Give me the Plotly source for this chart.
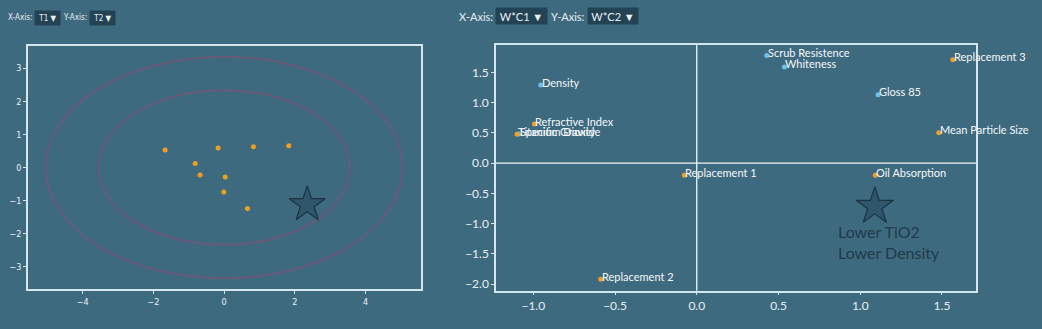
import plotly.graph_objects as go

W, H = 1042, 329

# ---- left plot data (scores T1/T2) ----
t1 = [-1.67, -0.17, 0.83, 1.83, -0.82, -0.68, 0.03, -0.01, 0.66]
t2 = [0.53, 0.59, 0.63, 0.66, 0.12, -0.23, -0.29, -0.74, -1.24]
ellipse_rx = [5.05, 3.55]
ellipse_ry = [3.35, 2.34]
star_left = ([2.35], [-1.12])

# ---- right plot data (loadings W*C1/W*C2) ----
var_names = ["Density", "Specific Gravity", "Scrub Resistence", "Whiteness", "Gloss 85"]
var_x = [-0.954, -1.09, 0.428, 0.536, 1.109]
var_y = [1.29, 0.48, 1.78, 1.59, 1.13]

obs_names = ["Refractive Index", "Titanium Dioxide", "Replacement 1", "Replacement 2",
             "Replacement 3", "Mean Particle Size", "Oil Absorption"]
obs_x = [-0.993, -1.099, -0.076, -0.587, 1.566, 1.48, 1.092]
obs_y = [0.645, 0.475, -0.20, -1.92, 1.71, 0.50, -0.20]

star_right = ([1.089], [-0.716])
star_label = "Lower TiO2<br>Lower Density"

BG = "#3e6a80"
FRAME = "#d4e6f0"
ORANGE = "#f0a020"
BLUE = "#6cc0ec"
STAR_FILL = "#2f566b"
STAR_LINE = "#1b3343"
ELL = "#685a7a"

fig = go.Figure()

# left
for rx, ry in zip(ellipse_rx, ellipse_ry):
    fig.add_shape(type="circle", xref="x", yref="y", x0=-rx, x1=rx, y0=-ry, y1=ry,
                  line=dict(color=ELL, width=2), layer="below")
fig.add_trace(go.Scatter(x=t1, y=t2, mode="markers", xaxis="x", yaxis="y",
                         marker=dict(color=ORANGE, size=5, line=dict(width=0)), showlegend=False))
fig.add_trace(go.Scatter(x=star_left[0], y=star_left[1], mode="markers", xaxis="x", yaxis="y",
                         marker=dict(symbol="star", size=27, color=STAR_FILL,
                                     line=dict(color=STAR_LINE, width=1.2)), showlegend=False))

# right
lab_font = dict(family="Lato", size=11, color="#f4f8fa")
fig.add_trace(go.Scatter(x=var_x, y=var_y, mode="markers", xaxis="x2", yaxis="y2",
                         marker=dict(color=BLUE, size=5), showlegend=False))
fig.add_trace(go.Scatter(x=obs_x, y=obs_y, mode="markers", xaxis="x2", yaxis="y2",
                         marker=dict(color=ORANGE, size=5), showlegend=False))
for names, xs, ys in ((var_names, var_x, var_y), (obs_names, obs_x, obs_y)):
    for n, xv, yv in zip(names, xs, ys):
        fig.add_annotation(x=xv, y=yv, xref="x2", yref="y2", text=n, showarrow=False,
                           xanchor="left", yanchor="middle", xshift=-1, yshift=3, font=lab_font)
fig.add_trace(go.Scatter(x=star_right[0], y=star_right[1], mode="markers", xaxis="x2", yaxis="y2",
                         marker=dict(symbol="star", size=28, color=STAR_FILL,
                                     line=dict(color=STAR_LINE, width=1.2)), showlegend=False))
fig.add_annotation(x=0.851, y=-1.31, xref="x2", yref="y2", text=star_label, showarrow=False,
                   xanchor="left", yanchor="middle", align="left",
                   font=dict(family="Lato", size=16, color="#1f3a4b"))

# zero lines on right
fig.add_shape(type="line", xref="x2", yref="paper", x0=0, x1=0, y0=1 - 290.7 / H, y1=1 - 44.7 / H,
              line=dict(color="#f0f6fa", width=1.3))
fig.add_shape(type="line", xref="paper", yref="y2", x0=496 / W, x1=976 / W, y0=0, y1=0,
              line=dict(color="#f0f6fa", width=1.3))

left_tick = dict(family="DejaVu Sans Condensed", size=9, color="#e8f0f4")
right_tick = dict(family="Lato", size=12, color="#e8f0f4")
ax_common = dict(showgrid=False, zeroline=False, showline=True, mirror=True, linecolor=FRAME,
                 linewidth=1.5, ticks="outside", ticklen=3, tickcolor=FRAME)

fig.update_layout(
    width=W, height=H, margin=dict(l=0, r=0, t=0, b=0),
    paper_bgcolor=BG, plot_bgcolor=BG,
    xaxis=dict(domain=[28 / W, 421 / W], range=[-5.55, 5.57], tickvals=[-4, -2, 0, 2, 4],
               tickfont=left_tick, anchor="y", **ax_common),
    yaxis=dict(domain=[1 - 289 / H, 1 - 46 / H], range=[-3.675, 3.675], tickvals=[-3, -2, -1, 0, 1, 2, 3],
               tickfont=left_tick, anchor="x", **ax_common),
    xaxis2=dict(domain=[496 / W, 976 / W], range=[-1.228, 1.708], tickvals=[-1.0, -0.5, 0.0, 0.5, 1.0, 1.5],
                ticktext=["\u22121.0", "\u22120.5", "0.0", "0.5", "1.0", "1.5"],
                tickfont=right_tick, anchor="y2", **ax_common),
    yaxis2=dict(domain=[1 - 290.7 / H, 1 - 44.7 / H], range=[-2.11, 1.957],
                tickvals=[-2.0, -1.5, -1.0, -0.5, 0.0, 0.5, 1.0, 1.5],
                ticktext=["\u22122.0", "\u22121.5", "\u22121.0", "\u22120.5", "0.0", "0.5", "1.0", "1.5"],
                tickfont=right_tick, anchor="x2", **ax_common),
)

# dropdown-like controls
BOX = "#234254"
def label(xpx, ypx, txt, font):
    fig.add_annotation(x=xpx / W, y=1 - ypx / H, xref="paper", yref="paper", text=txt,
                       showarrow=False, xanchor="left", yanchor="middle", font=font)

def box(xpx, ypx, wpx, hpx, txt, font):
    fig.add_annotation(x=xpx / W, y=1 - ypx / H, xref="paper", yref="paper", text=txt,
                       showarrow=False, xanchor="left", yanchor="middle", align="center",
                       width=wpx, height=hpx, bgcolor=BOX, borderpad=0, font=font)

fl = dict(family="DejaVu Sans Condensed", size=8, color="#e8f0f4")
label(6, 18, "X-Axis:", fl)
box(34, 18, 25, 14, "T1 \u25BC", fl)
label(61, 18, "Y-Axis:", fl)
box(89, 18, 25, 14, "T2 \u25BC", fl)

fr = dict(family="Lato", size=11, color="#e8f0f4")
label(457, 16, "X-Axis:", fr)
box(495, 16, 51, 16, "W*C1 \u25BC", fr)
label(549, 16, "Y-Axis:", fr)
box(587, 16, 50, 16, "W*C2 \u25BC", fr)

fig.write_html("out.html")
